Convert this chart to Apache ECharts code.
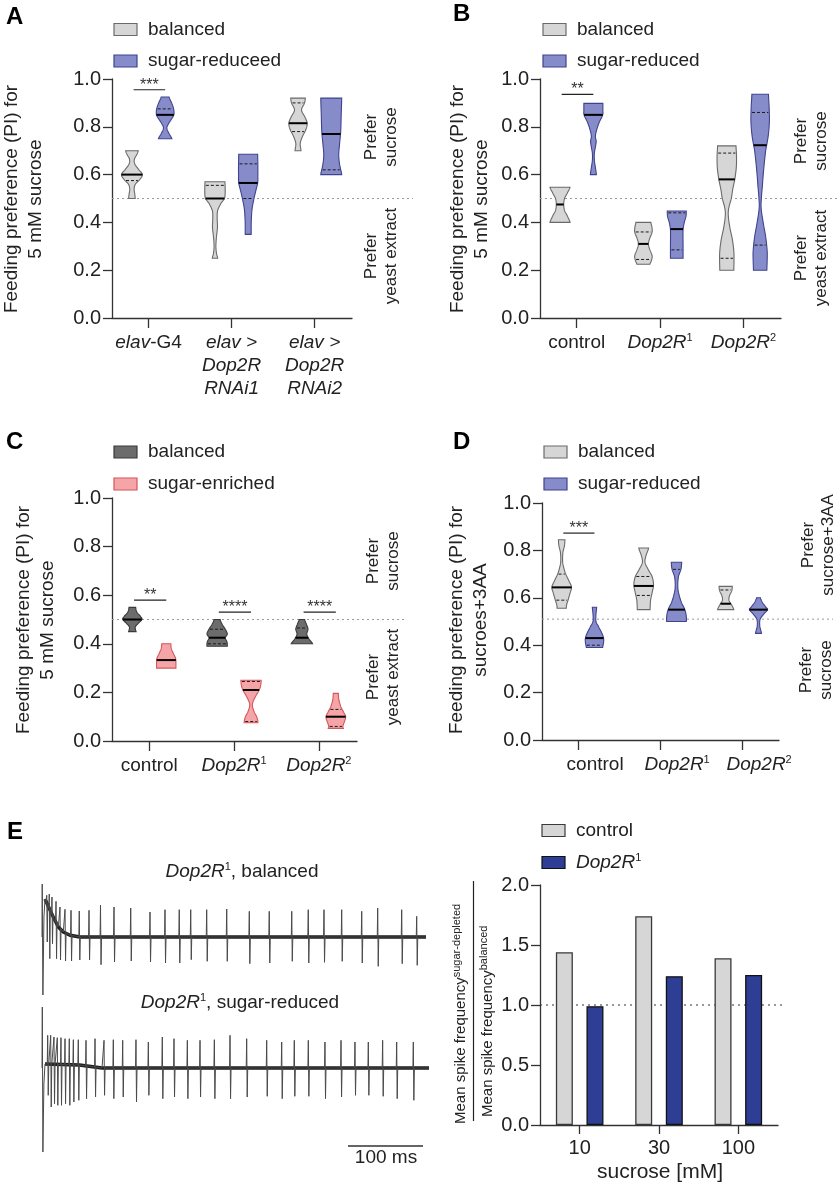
<!DOCTYPE html>
<html><head><meta charset="utf-8">
<script src="https://cdn.jsdelivr.net/npm/echarts@6/dist/echarts.min.js"></script>
<style>html,body{margin:0;padding:0;background:#fff}#c{width:837px;height:1184px}</style>
</head><body><div id="c"></div>
<script>
const FONT = '"Liberation Sans", Arial, Helvetica, sans-serif';

// ---------- Panel A ----------
const A_categories = ['elav-G4', 'elav >\nDop2R\nRNAi1', 'elav >\nDop2R\nRNAi2'];
const A_legend = ['balanced', 'sugar-reduceed'];
const A_bal_profiles = [
  [[0.70,0.63],[0.685,0.5],[0.665,0.25],[0.645,0.28],[0.62,0.7],[0.60,1.05],[0.58,0.8],[0.56,0.35],[0.54,0.22],[0.52,0.28],[0.50,0.33]],
  [[0.57,1.0],[0.55,1.02],[0.52,1.02],[0.50,0.95],[0.48,0.6],[0.45,0.27],[0.42,0.22],[0.38,0.25],[0.34,0.15],[0.30,0.09],[0.27,0.15],[0.25,0.27]],
  [[0.92,0.73],[0.90,0.65],[0.87,0.35],[0.84,0.7],[0.815,0.92],[0.79,0.8],[0.76,0.45],[0.73,0.22],[0.70,0.3]]
];
const A_bal_medians = [0.60, 0.50, 0.815];
const A_bal_quartiles = [[0.575], [0.555], [0.90, 0.78]];
const A_sug_profiles = [
  [[0.925,0.4],[0.90,0.65],[0.875,0.85],[0.85,0.87],[0.83,0.6],[0.81,0.3],[0.795,0.17],[0.775,0.35],[0.75,0.67]],
  [[0.685,0.95],[0.64,0.97],[0.60,0.97],[0.565,0.95],[0.53,0.75],[0.50,0.58],[0.46,0.4],[0.425,0.33],[0.39,0.3],[0.35,0.3]],
  [[0.92,1.05],[0.85,1.0],[0.78,0.95],[0.72,0.82],[0.68,0.75],[0.64,0.85],[0.60,1.05]]
];
const A_sug_medians = [0.85, 0.565, 0.77];
const A_sug_quartiles = [[0.875], [0.645, 0.50], [0.62]];
const A_sig_groups = [0];
const A_sig_y = [0.955];
const A_sig_labels = ['***'];
const A_ref = 0.5;

// ---------- Panel B ----------
const B_categories = ['control', 'Dop2R1', 'Dop2R2'];
const B_legend = ['balanced', 'sugar-reduced'];
const B_bal_profiles = [
  [[0.547,1.0],[0.52,0.7],[0.50,0.45],[0.475,0.37],[0.45,0.45],[0.43,0.7],[0.40,1.0]],
  [[0.40,0.75],[0.38,0.85],[0.36,0.87],[0.335,0.65],[0.31,0.5],[0.285,0.65],[0.26,0.87],[0.24,0.8],[0.225,0.65]],
  [[0.72,0.92],[0.68,0.97],[0.63,0.95],[0.58,0.8],[0.54,0.6],[0.50,0.45],[0.46,0.2],[0.43,0.15],[0.38,0.3],[0.33,0.55],[0.28,0.7],[0.24,0.72],[0.20,0.7]]
];
const B_bal_medians = [0.475, 0.31, 0.58];
const B_bal_quartiles = [[], [0.36, 0.245], [0.69, 0.25]];
const B_sug_profiles = [
  [[0.898,0.95],[0.87,0.95],[0.85,0.93],[0.82,0.6],[0.79,0.35],[0.76,0.2],[0.74,0.28],[0.72,0.22],[0.69,0.1],[0.66,0.1],[0.63,0.2],[0.60,0.3]],
  [[0.448,0.95],[0.425,0.92],[0.40,0.75],[0.37,0.63],[0.30,0.63],[0.25,0.63]],
  [[0.936,0.83],[0.88,0.9],[0.82,0.92],[0.76,0.8],[0.70,0.55],[0.62,0.35],[0.55,0.22],[0.50,0.12],[0.46,0.1],[0.40,0.3],[0.34,0.55],[0.28,0.7],[0.24,0.7],[0.20,0.67]]
];
const B_sug_medians = [0.85, 0.372, 0.723];
const B_sug_quartiles = [[], [0.44, 0.285], [0.86, 0.305]];
const B_sig_groups = [0];
const B_sig_y = [0.936];
const B_sig_labels = ['**'];
const B_ref = 0.5;

// ---------- Panel C ----------
const C_categories = ['control', 'Dop2R1', 'Dop2R2'];
const C_legend = ['balanced', 'sugar-enriched'];
const C_bal_profiles = [
  [[0.55,0.33],[0.53,0.45],[0.51,0.85],[0.50,0.93],[0.485,0.6],[0.47,0.3],[0.46,0.3],[0.45,0.37]],
  [[0.50,0.3],[0.48,0.5],[0.46,0.8],[0.44,1.0],[0.425,0.8],[0.41,0.95],[0.40,1.0],[0.39,1.0]],
  [[0.50,0.27],[0.48,0.45],[0.46,0.6],[0.44,0.48],[0.42,0.7],[0.40,1.05]]
];
const C_bal_medians = [0.50, 0.425, 0.425];
const C_bal_quartiles = [[], [0.46, 0.40], [0.465]];
const C_sug_profiles = [
  [[0.40,0.45],[0.38,0.5],[0.36,0.7],[0.34,0.92],[0.32,0.95],[0.30,0.95]],
  [[0.25,1.0],[0.23,0.95],[0.21,0.8],[0.18,0.4],[0.15,0.13],[0.12,0.3],[0.10,0.55],[0.08,0.67],[0.075,0.67]],
  [[0.196,0.25],[0.17,0.3],[0.14,0.5],[0.12,0.75],[0.10,0.97],[0.08,0.85],[0.06,0.7],[0.052,0.75]]
];
const C_sug_medians = [0.333, 0.21, 0.10];
const C_sug_quartiles = [[], [0.245, 0.08], [0.13, 0.06]];
const C_sig_groups = [0, 1, 2];
const C_sig_y = [0.58, 0.53, 0.53];
const C_sig_labels = ['**', '****', '****'];
const C_ref = 0.5;

// ---------- Panel D ----------
const D_categories = ['control', 'Dop2R1', 'Dop2R2'];
const D_legend = ['balanced', 'sugar-reduced'];
const D_bal_profiles = [
  [[0.845,0.33],[0.82,0.28],[0.79,0.12],[0.75,0.1],[0.72,0.25],[0.70,0.42],[0.67,0.75],[0.645,1.0],[0.62,0.85],[0.59,0.65],[0.57,0.5],[0.556,0.47]],
  [[0.81,0.5],[0.78,0.25],[0.75,0.13],[0.72,0.45],[0.69,0.85],[0.655,1.0],[0.62,0.85],[0.59,0.7],[0.55,0.65]],
  [[0.648,0.67],[0.63,0.62],[0.61,0.4],[0.59,0.33],[0.57,0.6],[0.55,0.83]]
];
const D_bal_medians = [0.644, 0.65, 0.575];
const D_bal_quartiles = [[0.59, 0.70], [0.69, 0.61], [0.633]];
const D_sug_profiles = [
  [[0.56,0.22],[0.53,0.15],[0.50,0.15],[0.48,0.4],[0.45,0.75],[0.43,0.92],[0.41,0.92],[0.39,0.83]],
  [[0.75,0.53],[0.72,0.45],[0.69,0.2],[0.65,0.13],[0.62,0.22],[0.58,0.5],[0.55,0.85],[0.52,1.0],[0.50,1.0]],
  [[0.60,0.2],[0.58,0.4],[0.56,0.75],[0.55,0.92],[0.535,0.6],[0.51,0.17],[0.48,0.13],[0.46,0.25],[0.45,0.3]]
];
const D_sug_medians = [0.43, 0.55, 0.55];
const D_sug_quartiles = [[0.40], [0.72], []];
const D_sig_groups = [0];
const D_sig_y = [0.873];
const D_sig_labels = ['***'];
const D_ref = 0.51;

// ---------- Panel E (bars) ----------
const E_categories = ['10', '30', '100'];
const E_legend = ['control', 'Dop2R1'];
const E_control = [1.44, 1.74, 1.39];
const E_dop2r = [0.99, 1.24, 1.25];
const E_ref = 1.0;

// ---------- Panel E (traces, ms / arbitrary µV) ----------
const T1_artifact = [[0, 0], [0.3, 53], [1.2, -58], [2.6, 20], [4, 38]];
const T1_baseline = [[4, 38], [10.7, 27], [15, 20], [21.8, 10], [28.4, 5], [37.3, 1.7], [50.7, 0], [512, 0]];
const T1_spike_times = [6.3, 9.7, 13.3, 18.7, 24, 30.7, 38.7, 49.7, 62.7, 78, 96, 118.3, 144, 164, 183, 198.3, 219.6, 246.3, 276.4, 303, 333, 355, 376, 399.6, 426.3, 447.6, 479.6, 499.6];
const T1_spike_peaks = [41.7, 43, 40, 35.7, 30, 27.7, 26.7, 26, 26.7, 32, 30, 29, 25, 27.3, 27.3, 27.3, 27.3, 28, 25.7, 25.7, 25.7, 27.3, 27.3, 27.3, 25.7, 29, 27.3, 20.7];
const T1_spike_troughs = [-5, -21.7, -6.7, -21.7, -23, -24, -24, -23, -23, -27.7, -25, -24, -25, -26, -26, -22.7, -24.3, -24.3, -26.7, -26, -24.3, -26, -25.3, -24.3, -26, -29.3, -26.7, -28.3];

const T2_artifact = [[0, 0], [0.4, 61], [1.2, -84], [2.5, -16], [4, 4]];
const T2_baseline = [[4, 4], [50, 3], [80, 0], [516, 0]];
const T2_spike_times = [7.6, 11.6, 16, 20.4, 25.3, 30.7, 36.4, 41.8, 48.4, 58.7, 70.7, 82.7, 95.1, 107.6, 125.3, 141.8, 160.4, 176, 193.8, 210.7, 229.8, 250.7, 272.9, 299.6, 319.6, 336.4, 355.1, 377.3, 398.7, 417.3, 435.1, 454.2, 472.9, 495.1];
const T2_spike_peaks = [32.7, 32.7, 31, 30.3, 30.3, 29.3, 29.3, 28.3, 28.3, 27.7, 29.3, 27.7, 28.3, 27.7, 28.3, 26, 31, 29.3, 27.7, 27.7, 28.3, 32.7, 29.3, 27.7, 26, 27.7, 27.7, 26, 27.7, 26, 26, 27.7, 26, 26];
const T2_spike_troughs = [-27.3, -39, -35.7, -37.3, -37.3, -35.7, -37.3, -34, -32.3, -30.7, -29, -27.3, -30.7, -29, -34, -27.3, -30.7, -29, -30.7, -29, -30.7, -30.7, -29, -28.3, -30.7, -28.3, -28.3, -30.7, -29, -27.3, -27.3, -28.3, -30.7, -32.3];
const SCALEBAR_MS = [408, 508];
const SCALEBAR_Y = -78;

// ---------- styles ----------
const AX = '#333333';
const COL = {
  balFill: '#d6d6d6', balStroke: '#6a6a6a',
  sugFill: '#868bca', sugStroke: '#40438c',
  darkFill: '#6c6c6c', darkStroke: '#3a3a3a',
  pinkFill: '#f5a5a8', pinkStroke: '#d4555a',
  ctrlFill: '#d6d6d6', ctrlStroke: '#3a3a3a',
  dopFill: '#2e3e95', dopStroke: '#111111'
};
const VIOLIN_HALF = 0.12;
const GROUP_OFFSET = 0.2;
const SIG_SPAN = [-0.18, 0.2];
const X_MIN = -0.44, X_MAX = 2.45;

const richLabel = {
  n: {fontSize: 19, fontFamily: FONT, color: '#222', lineHeight: 23},
  i: {fontSize: 19, fontFamily: FONT, fontStyle: 'italic', color: '#222', lineHeight: 23},
  s: {fontSize: 11, fontFamily: FONT, color: '#222', padding: [0, 0, 10, 0]}
};
function fmtGenotype(s) {
  if (s.startsWith('Dop2R')) return '{i|Dop2R}{s|' + s.slice(5) + '}';
  return '{n|' + s + '}';
}
function fmtA(s) {
  if (s.indexOf('-G4') >= 0) return '{i|' + s.split('-')[0] + '}{n|-' + s.split('-')[1] + '}';
  return s.split('\n').map(l => '{i|' + l + '}').join('\n');
}

function smoothProfile(pts, steps) {
  const out = [];
  const n = pts.length;
  for (let i = 0; i < n - 1; i++) {
    const p0 = pts[Math.max(i - 1, 0)], p1 = pts[i], p2 = pts[i + 1], p3 = pts[Math.min(i + 2, n - 1)];
    for (let s = 0; s < steps; s++) {
      const t = s / steps, t2 = t * t, t3 = t2 * t;
      const f = (a, b, c, d) => 0.5 * (2 * b + (-a + c) * t + (2 * a - 5 * b + 4 * c - d) * t2 + (-a + 3 * b - 3 * c + d) * t3);
      out.push([p1[0] + (p2[0] - p1[0]) * t, Math.max(0.7, f(p0[1], p1[1], p2[1], p3[1]))]);
    }
  }
  out.push([pts[n - 1][0], pts[n - 1][1]]);
  return out;
}
function widthAt(dense, py) {
  for (let i = 0; i < dense.length - 1; i++) {
    const a = dense[i], b = dense[i + 1];
    if (py >= a[0] && py <= b[0]) {
      const t = b[0] === a[0] ? 0 : (py - a[0]) / (b[0] - a[0]);
      return a[1] + (b[1] - a[1]) * t;
    }
  }
  return dense[py < dense[0][0] ? 0 : dense.length - 1][1];
}

function violinSeries(gi, offset, profiles, medians, quartiles, fill, stroke) {
  return {
    type: 'custom', coordinateSystem: 'cartesian2d', xAxisIndex: gi, yAxisIndex: gi,
    clip: false, silent: true, z: 3,
    data: medians.map((m, i) => [i + offset, m, i]),
    renderItem: function (params, api) {
      const cx = api.value(0), med = api.value(1), idx = api.value(2);
      const unit = api.size([1, 0])[0];
      const hs = VIOLIN_HALF * unit;
      const cpx = api.coord([cx, 0])[0];
      const pts = profiles[idx].map(([v, w]) => [api.coord([cx, v])[1], w * hs]);
      const dense = smoothProfile(pts, 8);
      const left = dense.map(([py, hw]) => [cpx - hw, py]);
      const right = dense.map(([py, hw]) => [cpx + hw, py]).reverse();
      const children = [{type: 'polygon', shape: {points: left.concat(right)},
        style: {fill: fill, stroke: stroke, lineWidth: 1.1}}];
      quartiles[idx].forEach(q => {
        const py = api.coord([cx, q])[1];
        const hw = widthAt(dense, py);
        children.push({type: 'line', shape: {x1: cpx - hw + 1, y1: py, x2: cpx + hw - 1, y2: py},
          style: {stroke: '#1a1a1a', lineWidth: 1, lineDash: [3, 2]}});
      });
      const my = api.coord([cx, med])[1];
      const mw = widthAt(dense, my);
      children.push({type: 'line', shape: {x1: cpx - mw, y1: my, x2: cpx + mw, y2: my},
        style: {stroke: '#000', lineWidth: 2}});
      return {type: 'group', children: children};
    }
  };
}
function sigSeries(gi, groups, ys, labels) {
  return {
    type: 'custom', coordinateSystem: 'cartesian2d', xAxisIndex: gi, yAxisIndex: gi,
    clip: false, silent: true, z: 4,
    data: groups.map((g, k) => [g, ys[k], k]),
    renderItem: function (params, api) {
      const g = api.value(0), y = api.value(1), k = api.value(2);
      const a = api.coord([g + SIG_SPAN[0], y]), b = api.coord([g + SIG_SPAN[1], y]);
      return {type: 'group', children: [
        {type: 'line', shape: {x1: a[0], y1: a[1], x2: b[0], y2: b[1]}, style: {stroke: '#222', lineWidth: 1.2}},
        {type: 'text', x: (a[0] + b[0]) / 2, y: a[1] - 4.5,
          style: {text: labels[k], fontSize: 16, fontFamily: FONT, fill: '#333', align: 'center', verticalAlign: 'middle'}}
      ]};
    }
  };
}
function refSeries(gi, y, extraPx, color, dash) {
  return {
    type: 'custom', coordinateSystem: 'cartesian2d', xAxisIndex: gi, yAxisIndex: gi,
    clip: false, silent: true, z: 1,
    data: [[0, y]],
    renderItem: function (params, api) {
      const cs = params.coordSys;
      const py = api.coord([api.value(0), api.value(1)])[1];
      return {type: 'line', shape: {x1: cs.x, y1: py, x2: cs.x + cs.width + extraPx, y2: py},
        style: {stroke: color, lineWidth: 1, lineDash: dash}};
    }
  };
}
function traceData(artifact, baseline, times, peaks, troughs) {
  const baseAt = t => {
    for (let i = 0; i < baseline.length - 1; i++) {
      const a = baseline[i], b = baseline[i + 1];
      if (t >= a[0] && t <= b[0]) return a[1] + (b[1] - a[1]) * (t - a[0]) / (b[0] - a[0]);
    }
    return 0;
  };
  const ev = [];
  times.forEach((t, i) => {
    const b = baseAt(t);
    ev.push([t - 0.6, b], [t, peaks[i]], [t + 0.7, troughs[i]], [t + 1.4, b]);
  });
  baseline.forEach(p => { if (!times.some(t => Math.abs(p[0] - t) < 1.6)) ev.push(p); });
  ev.sort((a, b) => a[0] - b[0]);
  return artifact.concat(ev);
}

// ---------- axes ----------
const grids = [
  {left: 112, top: 79, width: 240, height: 239},
  {left: 540, top: 79, width: 241, height: 239},
  {left: 112, top: 498, width: 245, height: 243},
  {left: 542, top: 503, width: 237, height: 237},
  {left: 540, top: 885, width: 238, height: 240},
  {left: 42, top: 880, width: 390, height: 120},
  {left: 42, top: 1000, width: 390, height: 160}
].map(g => Object.assign({containLabel: false, outerBoundsMode: 'none'}, g));

function violinX(gi, cats, fmt, pad) {
  return {
    type: 'value', gridIndex: gi, min: X_MIN, max: X_MAX,
    axisLine: {show: true, onZero: false, lineStyle: {color: AX, width: 1.3}},
    axisTick: {show: true, length: 10, customValues: [0, 1, 2], lineStyle: {color: AX, width: 1.3}},
    axisLabel: {show: true, customValues: [0, 1, 2], margin: 13, padding: pad || 0,
      formatter: v => fmt(cats[Math.round(v)]), rich: richLabel},
    splitLine: {show: false}
  };
}
function valueY(gi, max, interval) {
  return {
    type: 'value', gridIndex: gi, min: 0, max: max, interval: interval,
    axisLine: {show: true, onZero: false, lineStyle: {color: AX, width: 1.3}},
    axisTick: {show: true, length: 9, lineStyle: {color: AX, width: 1.3}},
    axisLabel: {show: true, margin: 11, fontSize: 20, fontFamily: FONT, color: '#222', formatter: v => v.toFixed(1)},
    splitLine: {show: false}
  };
}
const xAxes = [
  violinX(0, A_categories, fmtA),
  violinX(1, B_categories, fmtGenotype),
  violinX(2, C_categories, fmtGenotype),
  violinX(3, D_categories, fmtGenotype, [0, 0, 0, 34]),
  {type: 'category', gridIndex: 4, data: E_categories,
    axisLine: {show: true, onZero: false, lineStyle: {color: AX, width: 1.3}},
    axisTick: {show: true, alignWithLabel: true, length: 9, lineStyle: {color: AX, width: 1.3}},
    axisLabel: {show: true, margin: 13, fontSize: 20, fontFamily: FONT, color: '#222'},
    splitLine: {show: false}},
  {type: 'value', gridIndex: 5, min: 0, max: 520, show: false},
  {type: 'value', gridIndex: 6, min: 0, max: 520, show: false}
];
const yAxes = [
  valueY(0, 1, 0.2), valueY(1, 1, 0.2), valueY(2, 1, 0.2), valueY(3, 1, 0.2), valueY(4, 2, 0.5),
  {type: 'value', gridIndex: 5, min: -63, max: 57, show: false},
  {type: 'value', gridIndex: 6, min: -92, max: 68, show: false}
];

// ---------- series ----------
const series = [
  refSeries(0, A_ref, 61, '#9a9a9a', [2, 3]),
  refSeries(1, B_ref, 56, '#9a9a9a', [2, 3]),
  refSeries(2, C_ref, 48, '#9a9a9a', [2, 3]),
  refSeries(3, D_ref, 54, '#9a9a9a', [2, 3]),
  violinSeries(0, -GROUP_OFFSET, A_bal_profiles, A_bal_medians, A_bal_quartiles, COL.balFill, COL.balStroke),
  violinSeries(0, GROUP_OFFSET, A_sug_profiles, A_sug_medians, A_sug_quartiles, COL.sugFill, COL.sugStroke),
  violinSeries(1, -GROUP_OFFSET, B_bal_profiles, B_bal_medians, B_bal_quartiles, COL.balFill, COL.balStroke),
  violinSeries(1, GROUP_OFFSET, B_sug_profiles, B_sug_medians, B_sug_quartiles, COL.sugFill, COL.sugStroke),
  violinSeries(2, -GROUP_OFFSET, C_bal_profiles, C_bal_medians, C_bal_quartiles, COL.darkFill, COL.darkStroke),
  violinSeries(2, GROUP_OFFSET, C_sug_profiles, C_sug_medians, C_sug_quartiles, COL.pinkFill, COL.pinkStroke),
  violinSeries(3, -GROUP_OFFSET, D_bal_profiles, D_bal_medians, D_bal_quartiles, COL.balFill, COL.balStroke),
  violinSeries(3, GROUP_OFFSET, D_sug_profiles, D_sug_medians, D_sug_quartiles, COL.sugFill, COL.sugStroke),
  sigSeries(0, A_sig_groups, A_sig_y, A_sig_labels),
  sigSeries(1, B_sig_groups, B_sig_y, B_sig_labels),
  sigSeries(2, C_sig_groups, C_sig_y, C_sig_labels),
  sigSeries(3, D_sig_groups, D_sig_y, D_sig_labels),
  {type: 'bar', name: 'control', xAxisIndex: 4, yAxisIndex: 4, data: E_control, barWidth: 17, barGap: '80%',
    itemStyle: {color: COL.ctrlFill, borderColor: COL.ctrlStroke, borderWidth: 1.3}, silent: true, z: 3},
  {type: 'bar', name: 'Dop2R1', xAxisIndex: 4, yAxisIndex: 4, data: E_dop2r, barWidth: 17, barGap: '80%',
    itemStyle: {color: COL.dopFill, borderColor: COL.dopStroke, borderWidth: 1.3}, silent: true, z: 3},
  refSeries(4, E_ref, 4, '#333', [2, 4]),
  {type: 'line', xAxisIndex: 5, yAxisIndex: 5, data: T1_baseline, showSymbol: false, symbol: 'none', silent: true,
    lineStyle: {width: 3.4, color: '#1c1c1c'}, z: 2},
  {type: 'line', xAxisIndex: 5, yAxisIndex: 5, showSymbol: false, symbol: 'none', silent: true,
    data: traceData(T1_artifact, T1_baseline, T1_spike_times, T1_spike_peaks, T1_spike_troughs),
    lineStyle: {width: 1, color: '#4a4a4a'}, z: 3},
  {type: 'line', xAxisIndex: 6, yAxisIndex: 6, data: T2_baseline, showSymbol: false, symbol: 'none', silent: true,
    lineStyle: {width: 3.4, color: '#1c1c1c'}, z: 2},
  {type: 'line', xAxisIndex: 6, yAxisIndex: 6, showSymbol: false, symbol: 'none', silent: true,
    data: traceData(T2_artifact, T2_baseline, T2_spike_times, T2_spike_peaks, T2_spike_troughs),
    lineStyle: {width: 1, color: '#4a4a4a'}, z: 3},
  {type: 'line', xAxisIndex: 6, yAxisIndex: 6, showSymbol: false, symbol: 'none', silent: true,
    data: SCALEBAR_MS.map(t => [t, SCALEBAR_Y]), lineStyle: {width: 1.3, color: '#333'}}
];

// ---------- graphic texts ----------
const G = [];
function txt(x, y, text, o) {
  G.push(Object.assign({type: 'text', x: x, y: y,
    style: Object.assign({text: text, fontSize: 19, fontFamily: FONT, fill: '#222', align: 'left', verticalAlign: 'middle'}, (o && o.style) || {})},
    o && o.el || {}));
}
function letter(x, y, t) { txt(x, y, t, {style: {fontSize: 24, fontWeight: 'bold', fill: '#000', verticalAlign: 'top'}}); }
function legendItem(x, yc, fill, stroke, label, tx) {
  G.push({type: 'rect', shape: {x: x, y: yc - 6, width: 23, height: 12}, style: {fill: fill, stroke: stroke, lineWidth: 1.2}});
  if (label.startsWith('Dop2R')) {
    G.push({type: 'text', x: tx, y: yc, style: {text: '{i|Dop2R}{s|' + label.slice(5) + '}', rich: {
      i: {fontSize: 19, fontFamily: FONT, fontStyle: 'italic', fill: '#222'},
      s: {fontSize: 11, fontFamily: FONT, fill: '#222', padding: [0, 0, 10, 0]}}, verticalAlign: 'middle'}});
  } else txt(tx, yc, label);
}
function rot(x, y, text, size, lh) {
  G.push({type: 'text', x: x, y: y, rotation: Math.PI / 2,
    style: {text: text, fontSize: size, lineHeight: lh, fontFamily: FONT, fill: '#222', align: 'center', verticalAlign: 'middle'}});
}
letter(6, 5.5, 'A'); letter(453, 2.5, 'B'); letter(6, 430.5, 'C'); letter(453, 430.5, 'D'); letter(7, 820.5, 'E');

legendItem(114, 29.5, COL.balFill, COL.balStroke, A_legend[0], 148);
legendItem(114, 61, COL.sugFill, COL.sugStroke, A_legend[1], 148);
legendItem(543, 29.5, COL.balFill, COL.balStroke, B_legend[0], 577);
legendItem(543, 61, COL.sugFill, COL.sugStroke, B_legend[1], 577);
legendItem(114, 452, COL.darkFill, COL.darkStroke, C_legend[0], 148);
legendItem(114, 484, COL.pinkFill, COL.pinkStroke, C_legend[1], 148);
legendItem(544, 452, COL.balFill, COL.balStroke, D_legend[0], 578);
legendItem(544, 484, COL.sugFill, COL.sugStroke, D_legend[1], 578);
legendItem(542, 830.5, COL.ctrlFill, COL.ctrlStroke, E_legend[0], 576);
legendItem(542, 862.5, COL.dopFill, COL.dopStroke, E_legend[1], 576);

rot(23.5, 199, 'Feeding preference (PI) for\n5 mM sucrose', 19, 24);
rot(470, 199, 'Feeding preference (PI) for\n5 mM sucrose', 19, 24);
rot(36, 620, 'Feeding preference (PI) for\n5 mM sucrose', 19, 24);
rot(469, 620, 'Feeding preference (PI) for\nsucroes+3AA', 19, 24);

rot(381, 137, 'Prefer\nsucrose', 17, 20);
rot(381, 256, 'Prefer\nyeast extract', 17, 20);
rot(811, 141, 'Prefer\nsucrose', 17, 20);
rot(811, 258, 'Prefer\nyeast extract', 17, 20);
rot(383, 561, 'Prefer\nsucrose', 17, 20);
rot(383, 677, 'Prefer\nyeast extract', 17, 20);
rot(818, 545, 'Prefer\nsucrose+3AA', 17, 20);
rot(816, 670, 'Prefer\nsucrose', 17, 20);

// trace titles
const titleRich = {
  i: {fontSize: 19, fontFamily: FONT, fontStyle: 'italic', fill: '#222'},
  n: {fontSize: 19, fontFamily: FONT, fill: '#222'},
  s: {fontSize: 11, fontFamily: FONT, fill: '#222', padding: [0, 0, 10, 0]}
};
G.push({type: 'text', x: 242, y: 872, style: {text: '{i|Dop2R}{s|1}{n|, balanced}', rich: titleRich, align: 'center', verticalAlign: 'middle'}});
G.push({type: 'text', x: 240, y: 1003, style: {text: '{i|Dop2R}{s|1}{n|, sugar-reduced}', rich: titleRich, align: 'center', verticalAlign: 'middle'}});
txt(386, 1158, '100 ms', {style: {align: 'center'}});

// E bar titles
const eRich = {
  m: {fontSize: 15, fontFamily: FONT, fill: '#222'},
  s: {fontSize: 11, fontFamily: FONT, fill: '#222', padding: [0, 0, 9, 0]}
};
G.push({type: 'text', x: 461, y: 1124, rotation: Math.PI / 2,
  style: {text: '{m|Mean spike frequency}{s|sugar-depleted}', rich: eRich, align: 'left', verticalAlign: 'middle'}});
G.push({type: 'text', x: 488, y: 1117, rotation: Math.PI / 2,
  style: {text: '{m|Mean spike frequency}{s|balanced}', rich: eRich, align: 'left', verticalAlign: 'middle'}});
G.push({type: 'line', shape: {x1: 473.5, y1: 881, x2: 473.5, y2: 1121}, style: {stroke: '#222', lineWidth: 1.2}});
txt(660, 1172, 'sucrose [mM]', {style: {align: 'center', fontSize: 21}});

const chart = echarts.init(document.getElementById('c'), null, {renderer: 'canvas'});
chart.setOption({
  animation: false,
  backgroundColor: '#fff',
  grid: grids,
  xAxis: xAxes,
  yAxis: yAxes,
  series: series,
  graphic: G
});
</script>
</body></html>
